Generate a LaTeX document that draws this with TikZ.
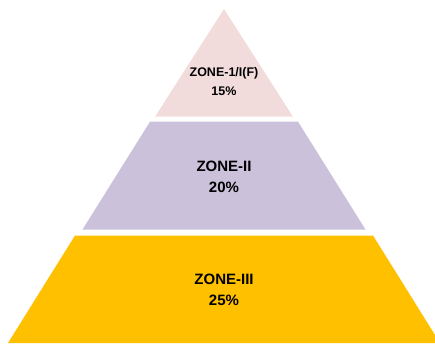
\documentclass[tikz,border=0pt]{standalone}
\usepackage{fontspec}
\setmainfont{Liberation Sans}
\usetikzlibrary{positioning}
\definecolor{zonepink}{HTML}{F2DCDB}
\definecolor{zonelilac}{HTML}{CCC1DA}
\definecolor{zonegold}{HTML}{FFC000}
\tikzset{
  band/.style = {
    draw=none
  },
  zonetext/.style = {
    align=center,
    inner sep=0pt,
    text=black,
    font=\bfseries\fontsize{15}{21}\selectfont
  },
  toptext/.style = {
    zonetext,
    font=\bfseries\fontsize{12.5}{18.8}\selectfont
  }
}

\begin{document}
\begin{tikzpicture}[x=1pt, y=-1pt]

% Rahmen
\useasboundingbox (0,0) rectangle (435,343);

% Eckpunkte der Stufen
\coordinate (apex) at (224,9);
\coordinate (top_bl) at (155,116.7);
\coordinate (top_br) at (293,116.7);
\coordinate (mid_tl) at (150,121.7);
\coordinate (mid_tr) at (298,121.7);
\coordinate (mid_bl) at (82.5,229.5);
\coordinate (mid_br) at (365.5,229.5);
\coordinate (low_tl) at (75,235.5);
\coordinate (low_tr) at (373,235.5);
\coordinate (low_bl) at (8,343);
\coordinate (low_br) at (440,343);

% Stufen
\fill[band, zonepink] (apex) -- (top_br) -- (top_bl) -- cycle;
\fill[band, zonelilac] (mid_tl) -- (mid_tr) -- (mid_br) -- (mid_bl) -- cycle;
\begin{scope}
  \clip (0,0) rectangle (435,343);
  \fill[band, zonegold] (low_tl) -- (low_tr) -- (low_br) -- (low_bl) -- cycle;
\end{scope}

% Beschriftung
\node[toptext] (zone_one) at (224,81.3) {ZONE-1/I(F)\\15\%};
\node[zonetext] (zone_two) at (224,177.3) {ZONE-II\\20\%};
\node[zonetext] (zone_three) at (224,290.3) {ZONE-III\\25\%};

\end{tikzpicture}
\end{document}
